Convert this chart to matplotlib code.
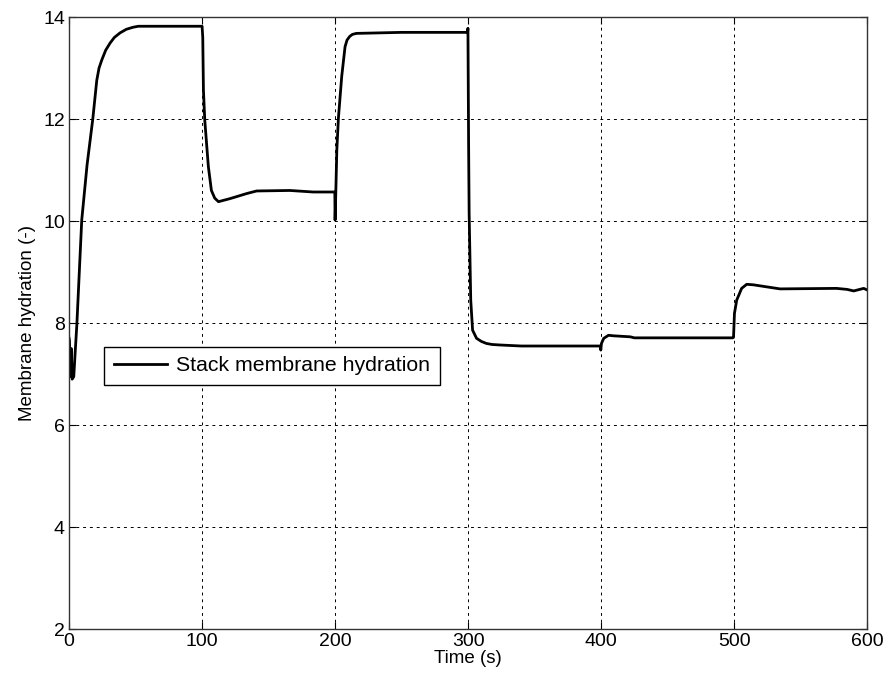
import matplotlib
matplotlib.use("Agg")
import matplotlib.pyplot as plt

plt.rcParams['font.family'] = ['Liberation Sans', 'DejaVu Sans']

# stack membrane hydration vs time
time_s = [0, 0.3, 1.0, 1.6, 2.3, 3.5, 4.5, 5.8, 9.5, 13.5, 17.8, 20.8, 22.5, 24.6,
          27.5, 30.8, 34, 38.3, 43, 48, 52, 100, 100.5, 101, 102, 104.7, 107,
          109.5, 112.3, 121, 133.6, 141, 166, 183.5, 199.8, 200, 200.3, 201.3,
          202.5, 205, 207.5, 209, 211, 213, 216, 250, 299.6, 299.9, 300.4,
          300.8, 302, 303.4, 306.4, 310, 313.8, 318, 324, 340, 399.4, 399.8,
          400.3, 402, 405.6, 409.4, 422, 425, 499, 499.6, 500.3, 502, 505.7,
          509.5, 514.5, 524.5, 534.6, 577, 585, 590, 597.5, 600]
hydration = [7.7, 7.65, 6.95, 7.5, 6.9, 6.95, 7.4, 7.96, 10.02, 11.1, 12.0, 12.76,
             13.0, 13.16, 13.35, 13.49, 13.6, 13.69, 13.76, 13.8, 13.82, 13.82,
             13.6, 12.57, 11.98, 11.07, 10.6, 10.45, 10.38, 10.44, 10.54, 10.59,
             10.6, 10.57, 10.57, 10.02, 10.3, 11.39, 12.02, 12.84, 13.42, 13.55,
             13.62, 13.66, 13.68, 13.7, 13.7, 13.78, 11.5, 10.15, 8.45, 7.86,
             7.7, 7.64, 7.6, 7.58, 7.57, 7.55, 7.55, 7.47, 7.6, 7.7, 7.76, 7.75,
             7.73, 7.71, 7.71, 7.72, 8.19, 8.45, 8.68, 8.76, 8.75, 8.71, 8.67,
             8.68, 8.66, 8.63, 8.68, 8.65]

xticks = [0, 100, 200, 300, 400, 500, 600]
yticks = [2, 4, 6, 8, 10, 12, 14]

fig = plt.figure(figsize=(8.86, 6.83), dpi=100)
ax = fig.add_axes([0.078, 0.079, 0.9006, 0.896])

ax.plot(time_s, hydration, color='black', linewidth=2, label='Stack membrane hydration')

ax.set_xlim(0, 600)
ax.set_ylim(2, 14)
ax.set_xticks(xticks)
ax.set_yticks(yticks)
ax.grid(True, color='black', linestyle=(0, (3, 4)), linewidth=0.7)
ax.tick_params(direction='in', top=True, right=True, labelsize=14, length=5, pad=3)
for sp in ax.spines.values():
    sp.set_color('#333333')
    sp.set_linewidth(1)

ax.set_xlabel('Time (s)', fontsize=13.5, labelpad=0)
ax.set_ylabel('Membrane hydration (-)', fontsize=13.5, labelpad=5)

leg = ax.legend(loc='upper left', bbox_to_anchor=(0.044, 0.461), borderaxespad=0,
                fontsize=15.3, fancybox=False, framealpha=1, handlelength=2.5,
                borderpad=0.45, handletextpad=0.45)
leg.get_frame().set_edgecolor('black')
leg.get_frame().set_linewidth(1)

fig.savefig('out.png', dpi=100)
